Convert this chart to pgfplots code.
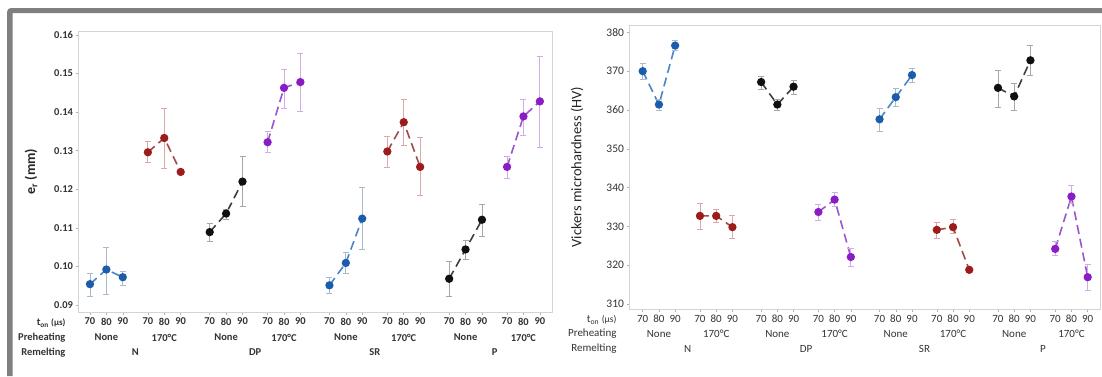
\documentclass[border=0pt]{standalone}
\usepackage{pgfplots}
\pgfplotsset{compat=1.18}
\usepackage{fontspec}
\setmainfont{Carlito}
\newcommand\fs[1]{\fontsize{#1}{#1}\selectfont}
\definecolor{bluemk}{HTML}{1B5DAA}\definecolor{blueln}{HTML}{4A86CC}\definecolor{blueerr}{HTML}{A8B9D0}
\definecolor{redmk}{HTML}{9C1C1C}\definecolor{redln}{HTML}{A24A48}\definecolor{rederr}{HTML}{DCA8A8}
\definecolor{blkmk}{HTML}{101010}\definecolor{blkln}{HTML}{404040}\definecolor{blkerr}{HTML}{A6A6A6}
\definecolor{purmk}{HTML}{8A1CC6}\definecolor{purln}{HTML}{9A55CF}\definecolor{purerr}{HTML}{D2ABE8}
\definecolor{frame}{HTML}{7F7F7F}
\pgfplotsset{
  ser/.style n args={3}{color=#2, line width=1.6pt, dash pattern=on 9pt off 5pt,
    mark=*, mark size=3.3pt, mark options={solid, fill=#1, draw=#1},
    error bars/.cd, y dir=both, y explicit,
    error bar style={solid, line width=0.8pt, draw=#3},
    error mark options={solid, rotate=90, mark size=3pt, line width=0.8pt, draw=#3}},
  sblue/.style={ser={bluemk}{blueln}{blueerr}},
  sred/.style={ser={redmk}{redln}{rederr}},
  sblk/.style={ser={blkmk}{blkln}{blkerr}},
  spur/.style={ser={purmk}{purln}{purerr}},
  base/.style={scale only axis, clip=false,
    axis line style={draw=black!17}, tick style={draw=black!30, line width=0.5pt},
    major tick length=2.5pt, tick align=outside, xtick pos=bottom, ytick pos=left,
    xtick={0,1,2,3.53,4.53,5.53,7.3,8.3,9.3,10.83,11.83,12.83,14.6,15.6,16.6,18.13,19.13,20.13,21.9,22.9,23.9,25.43,26.43,27.43},
    xticklabels={70,80,90,70,80,90,70,80,90,70,80,90,70,80,90,70,80,90,70,80,90,70,80,90},
    xticklabel style={anchor=center, yshift=-7pt},
    yticklabel style={xshift=1pt},
    every axis y label/.style={rotate=90, anchor=center},
    /pgf/number format/assume math mode=true,
    table/x=x, table/y=y,
  },
}
\begin{document}
\begin{tikzpicture}
\path[use as bounding box] (0pt,0pt) rectangle (1102pt,376pt);
\fill[white] (0pt,0pt) rectangle (1102pt,376pt);
% frame
\fill[frame] (7pt,0pt) -- (7pt,364pt) arc[start angle=180,end angle=90,radius=4pt] -- (1102pt,368pt) -- (1102pt,363pt) -- (12.5pt,363pt) -- (12.5pt,0pt) -- cycle;
% ---------------- left panel
\begin{axis}[base, anchor=south west, at={(78pt,64pt)}, width=474pt, height=281pt,
  xmin=-0.73, xmax=28.17, ymin=0.08818, ymax=0.16104,
  ytick={0.09,0.10,0.11,0.12,0.13,0.14,0.15,0.16}, scaled y ticks=false,
  yticklabel style={/pgf/number format/fixed, /pgf/number format/fixed zerofill, /pgf/number format/precision=2},
  tick label style={font=\fs{10.5}\bfseries, text=black!80},
  ylabel={\textbf{e\textsubscript{r} (mm)}},
  ylabel style={at={(axis description cs:-0.099,0.5)}, font=\fs{14}, text=black!85},
]
\addplot[sblue] table[y error plus expr=\thisrow{hi}-\thisrow{y}, y error minus expr=\thisrow{y}-\thisrow{lo}] {
x y hi lo
0 0.0954 0.0981 0.0922
1 0.0992 0.1049 0.0928
2 0.0972 0.0987 0.0951
};
\addplot[sred] table[y error plus expr=\thisrow{hi}-\thisrow{y}, y error minus expr=\thisrow{y}-\thisrow{lo}] {
x y hi lo
3.53 0.1296 0.1323 0.1269
4.53 0.1333 0.1410 0.1255
5.53 0.1245 0.1247 0.1243
};
\addplot[sblk] table[y error plus expr=\thisrow{hi}-\thisrow{y}, y error minus expr=\thisrow{y}-\thisrow{lo}] {
x y hi lo
7.3 0.1089 0.1112 0.1065
8.3 0.1137 0.1147 0.1121
9.3 0.1220 0.1284 0.1155
};
\addplot[spur] table[y error plus expr=\thisrow{hi}-\thisrow{y}, y error minus expr=\thisrow{y}-\thisrow{lo}] {
x y hi lo
10.83 0.1322 0.1350 0.1295
11.83 0.1463 0.1512 0.1410
12.83 0.1478 0.1553 0.1403
};
\addplot[sblue] table[y error plus expr=\thisrow{hi}-\thisrow{y}, y error minus expr=\thisrow{y}-\thisrow{lo}] {
x y hi lo
14.6 0.0951 0.0972 0.0931
15.6 0.1009 0.1037 0.0981
16.6 0.1124 0.1205 0.1043
};
\addplot[sred] table[y error plus expr=\thisrow{hi}-\thisrow{y}, y error minus expr=\thisrow{y}-\thisrow{lo}] {
x y hi lo
18.13 0.1298 0.1337 0.1258
19.13 0.1374 0.1432 0.1313
20.13 0.1258 0.1334 0.1184
};
\addplot[sblk] table[y error plus expr=\thisrow{hi}-\thisrow{y}, y error minus expr=\thisrow{y}-\thisrow{lo}] {
x y hi lo
21.9 0.0968 0.1013 0.0922
22.9 0.1044 0.1068 0.1017
23.9 0.1121 0.1162 0.1078
};
\addplot[spur] table[y error plus expr=\thisrow{hi}-\thisrow{y}, y error minus expr=\thisrow{y}-\thisrow{lo}] {
x y hi lo
25.43 0.1258 0.1285 0.1229
26.43 0.1389 0.1434 0.1341
27.43 0.1428 0.1544 0.1308
};
\begin{scope}[every node/.style={font=\fs{10.5}\bfseries, text=black!80}]
\node[anchor=east] at ([xshift=-9pt,yshift=-11pt]rel axis cs:0,0) {t\textsubscript{on} {\fs{9}(µs)}};
\node[anchor=east] at ([xshift=-9pt,yshift=-25.5pt]rel axis cs:0,0) {Preheating};
\node[anchor=east] at ([xshift=-9pt,yshift=-40.5pt]rel axis cs:0,0) {Remelting};
\node at ([yshift=-25.5pt]axis cs:1,0.08818) {None};
\node at ([yshift=-25.5pt]axis cs:4.53,0.08818) {170°C};
\node at ([yshift=-25.5pt]axis cs:8.3,0.08818) {None};
\node at ([yshift=-25.5pt]axis cs:11.83,0.08818) {170°C};
\node at ([yshift=-25.5pt]axis cs:15.6,0.08818) {None};
\node at ([yshift=-25.5pt]axis cs:19.13,0.08818) {170°C};
\node at ([yshift=-25.5pt]axis cs:22.9,0.08818) {None};
\node at ([yshift=-25.5pt]axis cs:26.43,0.08818) {170°C};
\node at ([yshift=-40.5pt]axis cs:2.77,0.08818) {N};
\node at ([yshift=-40.5pt]axis cs:10.07,0.08818) {DP};
\node at ([yshift=-40.5pt]axis cs:17.37,0.08818) {SR};
\node at ([yshift=-40.5pt]axis cs:24.67,0.08818) {P};
\end{scope}
\end{axis}
% ---------------- right panel
\begin{axis}[base, anchor=south west, at={(629pt,67pt)}, width=471pt, height=284pt,
  xmin=-0.845, xmax=28.19, ymin=308.7, ymax=381.9,
  ytick={310,320,...,380},
  tick label style={font=\fs{11}, text=black!80},
  yticklabel style={font=\fs{11.5}},
  ylabel={Vickers microhardness (HV)},
  ylabel style={at={(axis description cs:-0.110,0.5)}, font=\fs{14.5}, text=black!85},
]
\addplot[sblue] table[y error plus expr=\thisrow{hi}-\thisrow{y}, y error minus expr=\thisrow{y}-\thisrow{lo}] {
x y hi lo
0 370.0 372.0 367.8
1 361.4 362.8 359.8
2 376.6 377.9 375.3
};
\addplot[sred] table[y error plus expr=\thisrow{hi}-\thisrow{y}, y error minus expr=\thisrow{y}-\thisrow{lo}] {
x y hi lo
3.53 332.7 335.9 329.1
4.53 332.7 334.4 330.9
5.53 329.8 332.7 326.8
};
\addplot[sblk] table[y error plus expr=\thisrow{hi}-\thisrow{y}, y error minus expr=\thisrow{y}-\thisrow{lo}] {
x y hi lo
7.3 367.2 368.7 365.3
8.3 361.4 362.6 360.0
9.3 366.0 367.7 364.1
};
\addplot[spur] table[y error plus expr=\thisrow{hi}-\thisrow{y}, y error minus expr=\thisrow{y}-\thisrow{lo}] {
x y hi lo
10.83 333.7 335.7 331.5
11.83 336.9 338.7 335.2
12.83 322.1 324.4 319.8
};
\addplot[sblue] table[y error plus expr=\thisrow{hi}-\thisrow{y}, y error minus expr=\thisrow{y}-\thisrow{lo}] {
x y hi lo
14.6 357.6 360.3 354.6
15.6 363.3 365.5 361.0
16.6 369.0 370.7 367.1
};
\addplot[sred] table[y error plus expr=\thisrow{hi}-\thisrow{y}, y error minus expr=\thisrow{y}-\thisrow{lo}] {
x y hi lo
18.13 329.1 331.1 326.8
19.13 329.8 331.7 328.1
20.13 318.8 318.9 318.7
};
\addplot[sblk] table[y error plus expr=\thisrow{hi}-\thisrow{y}, y error minus expr=\thisrow{y}-\thisrow{lo}] {
x y hi lo
21.9 365.7 370.3 360.6
22.9 363.5 366.8 359.8
23.9 372.8 376.6 369.0
};
\addplot[spur] table[y error plus expr=\thisrow{hi}-\thisrow{y}, y error minus expr=\thisrow{y}-\thisrow{lo}] {
x y hi lo
25.43 324.2 326.1 322.4
26.43 337.7 340.5 335.9
27.43 316.9 320.2 313.5
};
\begin{scope}[every node/.style={font=\fs{11}, text=black!80}]
\node[anchor=east] at ([xshift=-9pt,yshift=-11pt]rel axis cs:0,0) {t\textsubscript{on} {\fs{9.5}(µs)}};
\node[anchor=east] at ([xshift=-9pt,yshift=-25pt]rel axis cs:0,0) {Preheating};
\node[anchor=east] at ([xshift=-9pt,yshift=-40pt]rel axis cs:0,0) {Remelting};
\node at ([yshift=-25pt]axis cs:1,308.7) {None};
\node at ([yshift=-25pt]axis cs:4.53,308.7) {170°C};
\node at ([yshift=-25pt]axis cs:8.3,308.7) {None};
\node at ([yshift=-25pt]axis cs:11.83,308.7) {170°C};
\node at ([yshift=-25pt]axis cs:15.6,308.7) {None};
\node at ([yshift=-25pt]axis cs:19.13,308.7) {170°C};
\node at ([yshift=-25pt]axis cs:22.9,308.7) {None};
\node at ([yshift=-25pt]axis cs:26.43,308.7) {170°C};
\node at ([yshift=-40pt]axis cs:2.77,308.7) {N};
\node at ([yshift=-40pt]axis cs:10.07,308.7) {DP};
\node at ([yshift=-40pt]axis cs:17.37,308.7) {SR};
\node at ([yshift=-40pt]axis cs:24.67,308.7) {P};
\end{scope}
\end{axis}
\end{tikzpicture}
\end{document}
